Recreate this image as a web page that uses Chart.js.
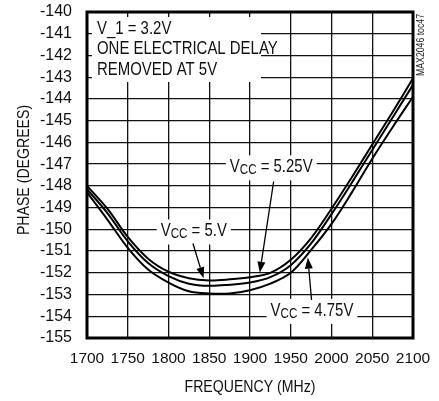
<!DOCTYPE html>
<html>
<head>
<meta charset="utf-8">
<script src="https://cdn.jsdelivr.net/npm/chart.js@4.4.1/dist/chart.umd.min.js"></script>
<style>
  html, body { margin: 0; padding: 0; background: #fff; }
</style>
</head>
<body>
<canvas id="phaseChart" width="439" height="401"></canvas>
<script>
// data
const frequencies = [1700, 1725, 1750, 1775, 1800, 1825, 1850, 1875, 1900, 1925, 1950, 1975, 2000, 2025, 2050, 2075, 2100];
const phaseVcc525 = [-148.0, -149.05, -150.35, -151.35, -151.95, -152.25, -152.35, -152.3, -152.2, -152.0, -151.4, -150.4, -149.05, -147.6, -146.1, -144.6, -143.05];
const phaseVcc500 = [-148.15, -149.25, -150.55, -151.55, -152.15, -152.5, -152.6, -152.55, -152.45, -152.2, -151.65, -150.65, -149.3, -147.85, -146.35, -144.85, -143.35];
const phaseVcc475 = [-148.3, -149.55, -150.85, -151.85, -152.45, -152.85, -152.95, -152.95, -152.8, -152.5, -152.0, -150.95, -149.75, -148.3, -146.75, -145.3, -143.9];
const seriesNames = ['VCC = 5.25V', 'VCC = 5.V', 'VCC = 4.75V'];
const xTicks = [1700, 1750, 1800, 1850, 1900, 1950, 2000, 2050, 2100];
const yTicks = [-155, -154, -153, -152, -151, -150, -149, -148, -147, -146, -145, -144, -143, -142, -141, -140];

const FONT = '"Liberation Sans", Arial, sans-serif';
const SQUEEZE = 0.83; // reference uses a condensed face

// callout labels (data coords for text centre) and arrows
const callouts = [
  { sub: '5.25V', x: 1926, y: -147.15 },
  { sub: '5.V',   x: 1831, y: -150.1 },
  { sub: '4.75V', x: 1976, y: -153.75 }
];
const arrows = [
  { from: [1929, -147.8], to: [1912, -152.0] },
  { from: [1830, -150.65], to: [1843, -152.25] },
  { from: [1975.5, -153.25], to: [1971, -151.3] }
];

// draw text squeezed horizontally, x is left edge
function narrowText(ctx, text, x, y, size) {
  ctx.save();
  ctx.font = size + 'px ' + FONT;
  ctx.translate(x, y);
  ctx.scale(SQUEEZE, 1);
  ctx.fillText(text, 0, 0);
  const w = ctx.measureText(text).width * SQUEEZE;
  ctx.restore();
  return w;
}
function narrowWidth(ctx, text, size) {
  ctx.save();
  ctx.font = size + 'px ' + FONT;
  const w = ctx.measureText(text).width * SQUEEZE;
  ctx.restore();
  return w;
}

function vccWidth(ctx, text) {
  return narrowWidth(ctx, 'V', 18) + narrowWidth(ctx, 'CC', 14) + narrowWidth(ctx, ' = ' + text, 18);
}
function drawVcc(ctx, text, cx, cy) {
  let x = cx - vccWidth(ctx, text) / 2;
  x += narrowText(ctx, 'V', x, cy, 18);
  x += narrowText(ctx, 'CC', x, cy + 3, 14);
  narrowText(ctx, ' = ' + text, x, cy, 18);
}

function noPad(s) {
  s.paddingTop = 0; s.paddingBottom = 0; s.paddingLeft = 0; s.paddingRight = 0;
}

const notesPlugin = {
  id: 'notes',
  beforeDatasetsDraw(chart) {
    const ctx = chart.ctx;
    const xs = chart.scales.x, ys = chart.scales.y;
    ctx.save();
    ctx.textAlign = 'left';
    ctx.textBaseline = 'middle';
    ctx.fillStyle = '#fff';
    // top-left note box
    ctx.fillRect(92, 17, 169, 65);
    callouts.forEach(c => {
      const px = xs.getPixelForValue(c.x), py = ys.getPixelForValue(c.y);
      const w = vccWidth(ctx, c.sub);
      ctx.fillRect(px - w / 2 - 4, py - 12, w + 8, 25);
    });
    ctx.fillStyle = '#111';
    narrowText(ctx, 'V_1 = 3.2V', 97, 29, 18);
    narrowText(ctx, 'ONE ELECTRICAL DELAY', 97, 49, 18);
    narrowText(ctx, 'REMOVED AT 5V', 97, 70, 18);
    callouts.forEach(c => {
      drawVcc(ctx, c.sub, xs.getPixelForValue(c.x), ys.getPixelForValue(c.y));
    });
    ctx.restore();
  },
  afterDatasetsDraw(chart) {
    const ctx = chart.ctx;
    const xs = chart.scales.x, ys = chart.scales.y;
    const a = chart.chartArea;
    ctx.save();
    ctx.strokeStyle = '#000';
    ctx.fillStyle = '#000';
    ctx.lineWidth = 1.3;
    arrows.forEach(ar => {
      const x0 = xs.getPixelForValue(ar.from[0]), y0 = ys.getPixelForValue(ar.from[1]);
      const x1 = xs.getPixelForValue(ar.to[0]), y1 = ys.getPixelForValue(ar.to[1]);
      const ang = Math.atan2(y1 - y0, x1 - x0);
      const len = 11, half = 4;
      const bx = x1 - len * Math.cos(ang), by = y1 - len * Math.sin(ang);
      ctx.beginPath();
      ctx.moveTo(x0, y0);
      ctx.lineTo(bx, by);
      ctx.stroke();
      ctx.beginPath();
      ctx.moveTo(x1, y1);
      ctx.lineTo(bx + half * Math.sin(ang), by - half * Math.cos(ang));
      ctx.lineTo(bx - half * Math.sin(ang), by + half * Math.cos(ang));
      ctx.closePath();
      ctx.fill();
    });
    // heavy frame
    ctx.lineWidth = 3;
    ctx.strokeRect(a.left, a.top, a.right - a.left, a.bottom - a.top);
    ctx.restore();
  },
  afterDraw(chart) {
    const ctx = chart.ctx;
    ctx.save();
    ctx.fillStyle = '#111';
    ctx.textAlign = 'left';
    ctx.textBaseline = 'middle';
    const xt = 'FREQUENCY (MHz)';
    narrowText(ctx, xt, 250 - narrowWidth(ctx, xt, 17) / 2, 387, 17);
    const yt = 'PHASE (DEGREES)';
    ctx.translate(24, 170);
    ctx.rotate(-Math.PI / 2);
    narrowText(ctx, yt, -narrowWidth(ctx, yt, 17) / 2, 0, 17);
    ctx.restore();
    ctx.save();
    ctx.fillStyle = '#222';
    ctx.textAlign = 'left';
    ctx.textBaseline = 'middle';
    ctx.translate(421, 76);
    ctx.rotate(-Math.PI / 2);
    narrowText(ctx, 'MAX2046 toc47', 0, 0, 10.5);
    ctx.restore();
  }
};

function toPoints(vals) {
  return frequencies.map((f, i) => ({ x: f, y: vals[i] }));
}

const ctx = document.getElementById('phaseChart').getContext('2d');
const phaseChart = new Chart(ctx, {
  type: 'line',
  data: {
    datasets: [phaseVcc525, phaseVcc500, phaseVcc475].map((vals, i) => ({
      label: seriesNames[i],
      data: toPoints(vals),
      borderColor: '#000',
      borderWidth: 2,
      pointRadius: 0,
      fill: false,
      tension: 0.35
    }))
  },
  options: {
    responsive: false,
    animation: false,
    layout: { padding: { left: 0, top: 12, right: 26, bottom: 0 } },
    plugins: {
      legend: { display: false },
      tooltip: { enabled: false }
    },
    scales: {
      x: {
        type: 'linear',
        min: 1700,
        max: 2100,
        afterFit: s => { s.height = 63; noPad(s); },
        afterBuildTicks: s => { s.ticks = xTicks.map(v => ({ value: v })); },
        grid: { color: '#111', lineWidth: 1.3, drawTicks: false },
        border: { display: false },
        ticks: {
          color: '#111',
          padding: 11,
          autoSkip: false,
          maxRotation: 0,
          callback: v => String(v),
          font: { family: FONT, size: 15.5 }
        }
      },
      y: {
        type: 'linear',
        min: -155,
        max: -140,
        afterFit: s => { s.width = 87; noPad(s); },
        afterBuildTicks: s => { s.ticks = yTicks.map(v => ({ value: v })); },
        grid: { color: '#111', lineWidth: 1.3, drawTicks: false },
        border: { display: false },
        ticks: {
          color: '#111',
          padding: 15,
          autoSkip: false,
          callback: v => String(v),
          font: { family: FONT, size: 16 }
        }
      }
    }
  },
  plugins: [notesPlugin]
});
</script>
</body>
</html>
